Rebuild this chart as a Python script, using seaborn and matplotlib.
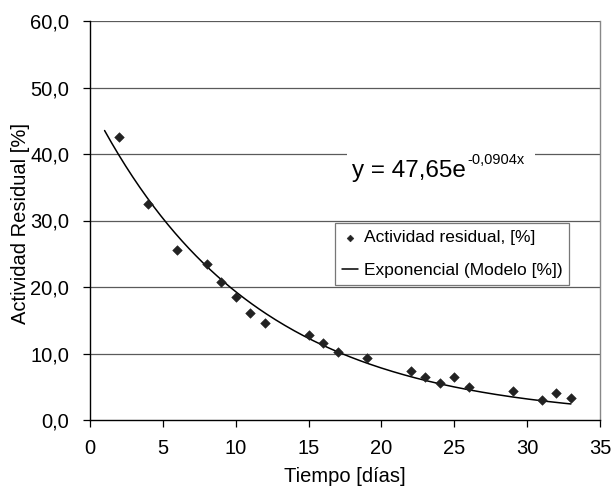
import numpy as np
import pandas as pd
import matplotlib
matplotlib.use("Agg")
import matplotlib.pyplot as plt
import matplotlib.patches as mpatches
import seaborn as sns

# Data
dias = [2, 4, 6, 8, 9, 10, 11, 12, 15, 16, 17, 19, 22, 23, 24, 25, 26, 29, 31, 32, 33]
actividad = [42.5, 32.5, 25.5, 23.5, 20.7, 18.5, 16.1, 14.6, 12.8, 11.6, 10.2, 9.3,
             7.3, 6.5, 5.6, 6.5, 5.0, 4.4, 3.0, 4.1, 3.3]

# Exponential trendline parameters shown in the chart
coef_a = 47.65
coef_b = -0.0904
fit_x_start, fit_x_end = 1, 33

y_ticks = [0, 10, 20, 30, 40, 50, 60]
x_ticks = [0, 5, 10, 15, 20, 25, 30, 35]

sns.set_theme(style="white")
plt.rcParams['font.family'] = ['Liberation Sans', 'DejaVu Sans']

W, H = 614, 488
fig = plt.figure(figsize=(W/100, H/100), dpi=100)
ax = fig.add_axes([90/W, 1-420/H, (600-90)/W, (420-21)/H])

df = pd.DataFrame({"x": dias, "y": actividad})
xf = np.linspace(fit_x_start, fit_x_end, 200)
df_fit = pd.DataFrame({"x": xf, "y": coef_a*np.exp(coef_b*xf)})

for yv in y_ticks[1:]:
    ax.axhline(yv, color="#5a5a5a", lw=0.9, zorder=0)

sns.lineplot(data=df_fit, x="x", y="y", ax=ax, color="black", lw=1.1,
             label="Exponencial (Modelo [%])", zorder=3)
sns.scatterplot(data=df, x="x", y="y", ax=ax, marker="D", s=24, color="#222222",
                edgecolor="#222222", label="Actividad residual, [%]", zorder=4)

ax.set_xlim(0, 35)
ax.set_ylim(0, 60)
ax.set_xticks(x_ticks)
ax.set_yticks(y_ticks)
ax.set_xticklabels([str(v) for v in x_ticks], fontsize=14.5)
ax.set_yticklabels([f"{v:.1f}".replace(".", ",") for v in y_ticks], fontsize=14.5)
ax.tick_params(axis="both", direction="out", length=5, width=0.9, color="black",
               bottom=True, left=True, labelcolor="black")
ax.tick_params(axis="x", pad=9)
ax.tick_params(axis="y", pad=10)
ax.set_xlabel("Tiempo [días]", fontsize=14.5, labelpad=6.5, color="black")
ax.set_ylabel("Actividad Residual [%]", fontsize=14.5, color="black")
ax.yaxis.set_label_coords((30-90)/510, 1-(224-21)/399)

for s in ["left", "bottom"]:
    ax.spines[s].set_color("black")
    ax.spines[s].set_linewidth(1.0)
ax.spines["right"].set_color("#888888")
ax.spines["right"].set_linewidth(1.0)
ax.spines["top"].set_visible(False)

# equation label with white background
fig.patches.append(mpatches.Rectangle((347/W, 1-188/H), (535-347)/W, 38/H,
                                      transform=fig.transFigure, facecolor="white",
                                      edgecolor="none", zorder=4.5))
t_main = fig.text(352/W, 1-171/H, "y = 47,65e", fontsize=17.5, ha="left",
                  va="center", color="black", zorder=5)
fig.canvas.draw()
bb = t_main.get_window_extent()
fig.text(bb.x1/W + 1/W, 1-160/H, "-0,0904x", fontsize=10.5, ha="left",
         va="center", color="black", zorder=5)

handles, labels = ax.get_legend_handles_labels()
order = [1, 0]
leg = ax.legend([handles[i] for i in order], [labels[i] for i in order],
                loc="upper left", bbox_to_anchor=((335-90)/510, 1-(223-21)/399),
                fontsize=12.5, frameon=True, fancybox=False, edgecolor="#555555",
                borderpad=0.4, handlelength=0.95, handletextpad=0.3, labelspacing=1.0,
                borderaxespad=0, labelcolor="black", markerscale=0.7)
leg.get_frame().set_linewidth(0.9)
leg.set_zorder(6)

fig.savefig("out.png", dpi=100, facecolor="white")
